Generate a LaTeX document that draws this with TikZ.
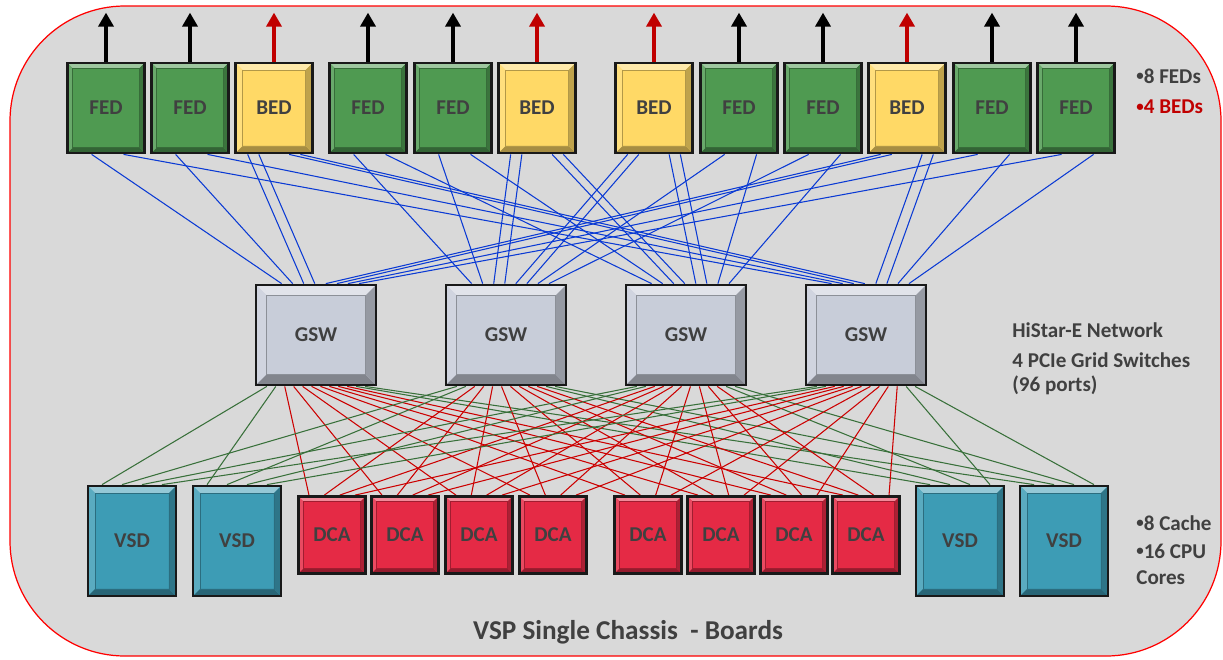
\documentclass[tikz,border=0pt]{standalone}
\usepackage{fontspec}
\setmainfont{Carlito}
\usetikzlibrary{arrows.meta, positioning, calc}
\usepackage{xcolor}
\definecolor{bggray}{HTML}{D9D9D9}
\definecolor{txtgray}{HTML}{404040}
\definecolor{bedred}{HTML}{C00000}
\definecolor{fedgreen}{HTML}{4F9A51}
\definecolor{bedyellow}{HTML}{FFD966}
\definecolor{gswgray}{HTML}{C8CDD9}
\definecolor{vsdteal}{HTML}{3D9CB5}
\definecolor{dcared}{HTML}{E52A45}
\definecolor{linkblue}{HTML}{0A3AD4}
\definecolor{linkred}{HTML}{CC0000}
\definecolor{linkgreen}{HTML}{38703A}
\def\boxline{1.6pt}
\newcommand{\dotmark}{\raisebox{1.4pt}{\fontsize{8.5}{8}\selectfont\textbullet}}

\pgfdeclarelayer{background}
\pgfdeclarelayer{links}
\pgfsetlayers{background,links,main}

\tikzset{
  bevel/.style 2 args={path picture={
    \coordinate (pnw) at (path picture bounding box.north west);
    \coordinate (pse) at (path picture bounding box.south east);
    \coordinate (pne) at (pnw -| pse);
    \coordinate (psw) at (pse -| pnw);
    \fill[#1!55!white] (pnw) -- (pne) -- ([shift={(-#2,-#2)}]pne) -- ([shift={(#2,-#2)}]pnw) -- cycle;
    \fill[#1!85!white] (pnw) -- ([shift={(#2,-#2)}]pnw) -- ([shift={(#2,#2)}]psw) -- (psw) -- cycle;
    \fill[#1!65!black] (pse) -- (psw) -- ([shift={(#2,#2)}]psw) -- ([shift={(-#2,#2)}]pse) -- cycle;
    \fill[#1!75!black] (pse) -- (pne) -- ([shift={(-#2,-#2)}]pne) -- ([shift={(-#2,#2)}]pse) -- cycle;
    \draw[#1!70!black, line width=0.5pt] ([shift={(#2,-#2)}]pnw) rectangle ([shift={(-#2,#2)}]pse);
  }}
}

\begin{document}
\begin{tikzpicture}[x=0.02cm, y=-0.02cm]
    \tikzstyle{board}=[draw=black!90, line width=\boxline, text=txtgray, inner sep=0pt, font=\fontsize{12}{14}\selectfont\bfseries]
    \tikzstyle{fed}=[board, fill=fedgreen, minimum width=1.54cm, minimum height=1.8cm, bevel={fedgreen}{3pt}]
    \tikzstyle{bed}=[board, fill=bedyellow, minimum width=1.54cm, minimum height=1.8cm, bevel={bedyellow}{4pt}]
    \tikzstyle{gsw}=[board, fill=gswgray, minimum width=2.4cm, minimum height=2cm, bevel={gswgray}{6pt}]
    \tikzstyle{vsd}=[board, fill=vsdteal, minimum width=1.76cm, minimum height=2.2cm, bevel={vsdteal}{4pt}]
    \tikzstyle{dca}=[board, fill=dcared, minimum width=1.34cm, minimum height=1.54cm, bevel={dcared}{3pt}]
    \tikzstyle{fed arrow}=[-{Triangle[width=0.3cm,length=0.28cm]}, line width=2.6pt, black]
    \tikzstyle{bed arrow}=[fed arrow, bedred]
    \tikzstyle{bluelink}=[linkblue, line width=0.6pt]
    \tikzstyle{redlink}=[linkred, line width=0.6pt]
    \tikzstyle{greenlink}=[linkgreen, line width=0.6pt]
    \tikzstyle{note}=[anchor=west, inner sep=0pt, text=txtgray, font=\fontsize{12}{14}\selectfont\bfseries]

    \useasboundingbox (0,0) rectangle (1223,659);
    \begin{pgfonlayer}{background}
        \draw[red, line width=0.7pt, fill=bggray, rounded corners=2.3cm] (10,6) rectangle (1221,656);
    \end{pgfonlayer}

    % front-end and back-end directors
    \foreach \n/\x/\kind/\lbl in {1/106/fed/FED, 2/190/fed/FED, 3/274/bed/BED, 4/368/fed/FED,
        5/453/fed/FED, 6/537/bed/BED, 7/654/bed/BED, 8/739/fed/FED, 9/823/fed/FED,
        10/907/bed/BED, 11/992/fed/FED, 12/1076/fed/FED} {
        \node[\kind] (T\n) at (\x,108) {\lbl};
        \coordinate (T\n-up) at ([yshift=0.98cm]T\n.north);
        \draw[\kind\space arrow] (T\n) -- (T\n-up);
    }
    \foreach \n in {1,2,4,5,8,9,11,12} {
        \coordinate (T\n-a) at ($(T\n.south west)!0.32!(T\n.south east)$);
        \coordinate (T\n-b) at ($(T\n.south west)!0.72!(T\n.south east)$);
    }
    \foreach \n in {3,6,7,10} {
        \coordinate (T\n-a) at ($(T\n.south west)!0.17!(T\n.south east)$);
        \coordinate (T\n-b) at ($(T\n.south west)!0.31!(T\n.south east)$);
        \coordinate (T\n-c) at ($(T\n.south west)!0.69!(T\n.south east)$);
        \coordinate (T\n-d) at ($(T\n.south west)!0.83!(T\n.south east)$);
    }

    % grid switches
    \foreach \k/\x in {1/316, 2/506, 3/686, 4/866} {
        \node[gsw] (G\k) at (\x,335) {GSW};
        \foreach \i in {1,...,8}
            \coordinate (G\k-\i) at ($(G\k.north west)!{0.22+0.09*(\i-1)}!(G\k.north east)$);
        \foreach \j in {1,...,12}
            \coordinate (G\k-b\j) at ($(G\k.south west)!{0.1+0.0727*(\j-1)}!(G\k.south east)$);
    }

    % cache and processor boards
    \foreach \j/\x/\y/\kind/\lbl in {1/132/541/vsd/VSD, 2/237/541/vsd/VSD, 3/332/535/dca/DCA,
        4/405/535/dca/DCA, 5/479/535/dca/DCA, 6/553/535/dca/DCA, 7/648/535/dca/DCA,
        8/721/535/dca/DCA, 9/794/535/dca/DCA, 10/866/535/dca/DCA, 11/960/541/vsd/VSD,
        12/1064/541/vsd/VSD} {
        \node[\kind] (B\j) at (\x,\y) {\lbl};
        \foreach \k/\f in {1/0.17, 2/0.39, 3/0.61, 4/0.83}
            \coordinate (B\j-\k) at ($(B\j.north west)!\f!(B\j.north east)$);
    }

    \begin{pgfonlayer}{links}
        \foreach \s [count=\i] in {T1-a,T2-a,T3-a,T3-b,T10-a,T10-b,T11-a,T12-a}
            \draw[bluelink] (\s) -- (G1-\i);
        \foreach \s [count=\i] in {T4-a,T5-a,T6-a,T6-b,T7-a,T7-b,T8-a,T9-a}
            \draw[bluelink] (\s) -- (G2-\i);
        \foreach \s [count=\i] in {T4-b,T5-b,T6-c,T6-d,T7-c,T7-d,T8-b,T9-b}
            \draw[bluelink] (\s) -- (G3-\i);
        \foreach \s [count=\i] in {T1-b,T2-b,T3-c,T3-d,T10-c,T10-d,T11-b,T12-b}
            \draw[bluelink] (\s) -- (G4-\i);
        \foreach \k in {1,...,4} {
            \foreach \j in {3,...,10} \draw[redlink] (G\k-b\j) -- (B\j-\k);
            \foreach \j in {1,2,11,12} \draw[greenlink] (G\k-b\j) -- (B\j-\k);
        }
    \end{pgfonlayer}

    \node[note] (fedcount) at (1136,76) {\dotmark8 FEDs};
    \node[note, text=bedred] (bedcount) at (1136,107) {\dotmark4 BEDs};
    \node[note] (netname) at (1012,330) {HiStar-E Network};
    \node[note] (netswitch) at (1012,360) {4 PCIe Grid Switches};
    \node[note] (netports) at (1012,385) {(96 ports)};
    \node[note] (cache) at (1136,523) {\dotmark8 Cache};
    \node[note] (cpu) at (1136,551) {\dotmark16 CPU};
    \node[note] (cores) at (1136,578) {Cores};
    \node[text=txtgray, font=\fontsize{15.5}{18}\selectfont\bfseries] (chassis) at (628,632) {VSP Single Chassis\ \ - Boards};
\end{tikzpicture}
\end{document}
